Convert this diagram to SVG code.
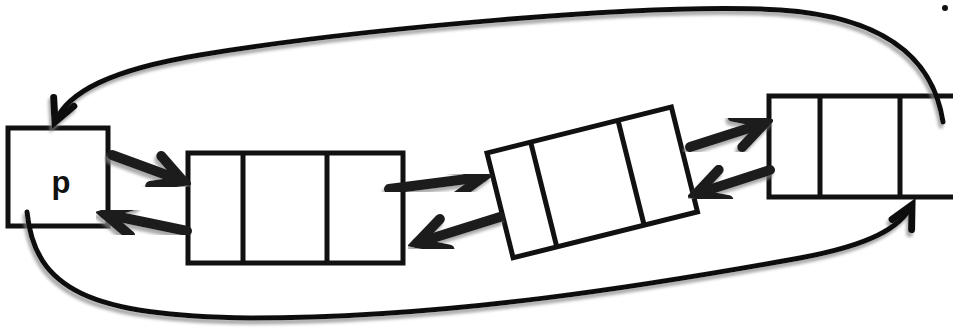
<svg xmlns="http://www.w3.org/2000/svg" width="953" height="329" viewBox="0 0 953 329">
  <defs>
    <style>
      .box { fill: #fff; stroke: #111; stroke-width: 5; }
      .div { stroke: #111; stroke-width: 5; fill: none; }
      .thick { stroke: #1c1f1e; stroke-width: 10; fill: none; stroke-linecap: round; marker-end: url(#chev); filter: url(#shadow); }
      .curve { stroke: #111; stroke-width: 5; fill: none; stroke-linecap: round; marker-end: url(#chevThin); filter: url(#shadow); }
      .lbl { font-family: "Liberation Sans", Arial, sans-serif; font-size: 31px; font-weight: bold; fill: #111; text-anchor: middle; }
    </style>
    <marker id="chev" markerUnits="userSpaceOnUse" orient="auto" markerWidth="60" markerHeight="60" viewBox="-45 -30 60 60" refX="0" refY="0">
      <path d="M-29,-16 L0,0 L-29,16" fill="none" stroke="#1c1f1e" stroke-width="10" stroke-linecap="round" stroke-linejoin="miter"/>
    </marker>
    <marker id="chevThin" markerUnits="userSpaceOnUse" orient="auto" markerWidth="50" markerHeight="50" viewBox="-40 -25 50 50" refX="0" refY="0">
      <path d="M-22,-11 L0,0 L-22,11" fill="none" stroke="#111" stroke-width="7" stroke-linecap="round" stroke-linejoin="miter"/>
    </marker>
    <filter id="shadow" x="-10%" y="-20%" width="120%" height="140%">
      <feDropShadow dx="-2" dy="4" stdDeviation="1.5" flood-color="#888" flood-opacity="0.7"/>
    </filter>
  </defs>

  <g id="node-p">
    <rect class="box" x="8" y="128" width="100" height="98"/>
    <text class="lbl" x="61" y="193">p</text>
  </g>

  <g id="node-1">
    <rect class="box" x="188" y="153" width="215" height="110"/>
    <line class="div" x1="243" y1="153" x2="243" y2="263"/>
    <line class="div" x1="327" y1="153" x2="327" y2="263"/>
  </g>

  <g id="node-2" transform="translate(487,153) rotate(-14)">
    <rect class="box" x="0" y="0" width="190" height="108"/>
    <line class="div" x1="45" y1="0" x2="45" y2="108"/>
    <line class="div" x1="135" y1="0" x2="135" y2="108"/>
  </g>

  <g id="node-3">
    <rect class="box" x="769" y="96" width="220" height="101"/>
    <line class="div" x1="820" y1="96" x2="820" y2="197"/>
    <line class="div" x1="900" y1="96" x2="900" y2="197"/>
  </g>

  <g id="connectors">
    <line class="thick" x1="112" y1="155" x2="183" y2="181"/>
    <line class="thick" x1="187" y1="231" x2="105" y2="214"/>
    <line class="thick" x1="389" y1="189" x2="483" y2="177"/>
    <line class="thick" x1="500" y1="217" x2="417" y2="243"/>
    <line class="thick" x1="690" y1="147" x2="765" y2="123"/>
    <line class="thick" x1="770" y1="170" x2="696" y2="194"/>
    <path class="curve" d="M943,122 C935,70 900,18 780,10 C650,2 350,30 200,55 C110,70 68,92 55,122"/>
    <path class="curve" d="M27,212 C35,290 90,316 250,318 C450,318 650,285 800,258 C870,245 900,228 912,205"/>
  </g>

  <circle cx="945" cy="8" r="3" fill="#111"/>
</svg>
